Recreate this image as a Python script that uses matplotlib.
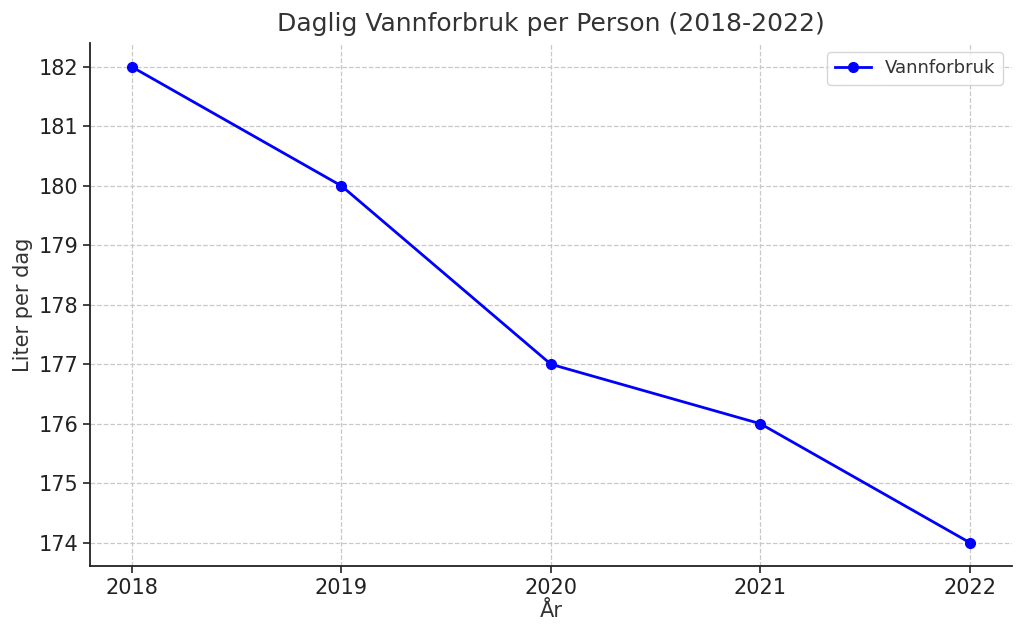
import matplotlib
matplotlib.use('Agg')
import matplotlib.pyplot as plt

# data
years = ['2018', '2019', '2020', '2021', '2022']
usage = [182, 180, 177, 176, 174]

fig = plt.figure(figsize=(10.24, 6.35), dpi=100)
ax = fig.add_axes([0.088, 0.108, 0.900, 0.824])

ax.plot(years, usage, color='blue', marker='o', linewidth=2, markersize=7, label='Vannforbruk')

ax.set_title('Daglig Vannforbruk per Person (2018-2022)', fontsize=18, color='#333333', pad=9)
ax.set_xlabel('År', fontsize=15, color='#333333', labelpad=2)
ax.set_ylabel('Liter per dag', fontsize=15, color='#333333')
ax.tick_params(labelsize=15, colors='#222222', width=1.2, length=5)
ax.grid(True, linestyle='--', color='#c8c8c8', linewidth=0.9)
ax.spines['top'].set_visible(False)
ax.spines['right'].set_visible(False)
for s in ['left', 'bottom']:
    ax.spines[s].set_linewidth(1.3)
    ax.spines[s].set_color('#222222')
ax.set_xlim(-0.2, 4.2)
ax.set_ylim(173.6, 182.4)
leg = ax.legend(loc='upper right', fontsize=13)
for t in leg.get_texts():
    t.set_color('#333333')

fig.savefig('out.png', dpi=100)
